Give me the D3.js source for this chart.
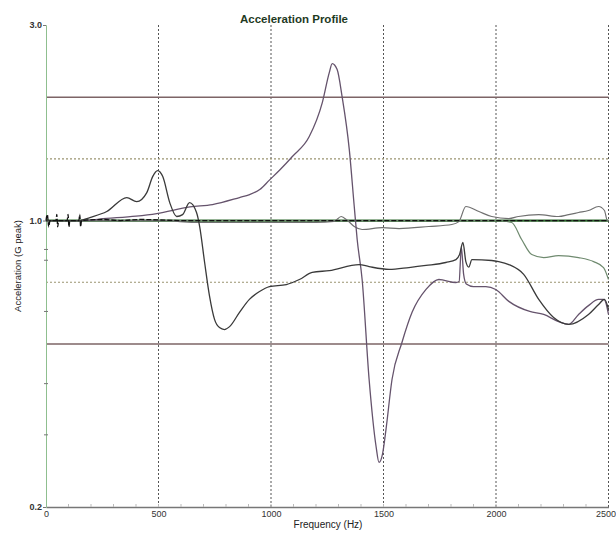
<!DOCTYPE html>
<html>
<head>
<meta charset="utf-8">
<script src="https://cdn.jsdelivr.net/npm/d3@7/dist/d3.min.js"></script>
<style>
  html, body { margin: 0; padding: 0; background: #fff; }
  svg { display: block; font-family: "Liberation Sans", Arial, sans-serif; }
</style>
</head>
<body>
<svg id="chart" width="616" height="534"></svg>
<script>
// Frequency axis (Hz) and acceleration axis (G peak, log)
const freqTicks = [0, 500, 1000, 1500, 2000, 2500];
const freqMinorTicks = d3.range(100, 2500, 100);
const accelLabels = [3.0, 1.0, 0.2];
const accelMinorTicks = [0.85, 0.8, 0.6, 0.4, 0.3];
const abortLimits = [2.0, 0.5];
const alarmLimits = [1.414, 0.707];
const referenceLevel = [[0, 1.0], [2500, 1.0]];

// Control channel: flat at 1.0 with start-up chatter
const controlTrace = [
  [0, 1.0], [6, 1.035], [12, 0.965], [18, 1.0], [44, 1.0], [48, 1.035], [52, 0.965], [56, 1.0],
  [94, 1.0], [98, 1.035], [102, 0.965], [106, 1.0], [146, 1.0], [150, 1.035], [154, 0.965],
  [158, 1.0], [250, 1.006], [330, 1.0], [420, 1.006], [600, 1.0], [2500, 1.0]
];

// Response channel with resonance at 1270 Hz and notch at 1480 Hz
const responseA = [
  [0, 1.0], [150, 1.0], [270, 1.012], [400, 1.025], [492, 1.04], [640, 1.08], [740, 1.094],
  [860, 1.138], [905, 1.157], [950, 1.19], [993, 1.255], [1040, 1.33], [1095, 1.433],
  [1170, 1.603], [1228, 1.94], [1259, 2.296], [1272, 2.415], [1294, 2.335], [1316, 2.006],
  [1348, 1.49], [1370, 1.082], [1383, 0.899], [1405, 0.718], [1436, 0.41], [1467, 0.281],
  [1480, 0.257], [1496, 0.27], [1511, 0.309], [1538, 0.41], [1582, 0.504], [1627, 0.597],
  [1689, 0.679], [1746, 0.718], [1822, 0.706], [1836, 0.71], [1846, 0.86], [1856, 0.74],
  [1868, 0.70], [1900, 0.69], [1955, 0.69], [1999, 0.679], [2057, 0.635], [2150, 0.60],
  [2212, 0.59], [2278, 0.567], [2323, 0.558], [2367, 0.59], [2411, 0.62], [2456, 0.642],
  [2480, 0.642], [2500, 0.59]
];

// Response channel with peak at 500 Hz and dip at 790 Hz
const responseB = [
  [0, 1.0], [150, 1.0], [195, 1.017], [270, 1.052], [359, 1.138], [403, 1.112], [448, 1.17],
  [474, 1.28], [496, 1.324], [519, 1.28], [550, 1.106], [581, 1.023], [607, 1.034],
  [638, 1.106], [669, 1.046], [683, 0.967], [705, 0.79], [727, 0.653], [749, 0.574],
  [771, 0.548], [793, 0.542], [816, 0.551], [860, 0.597], [904, 0.642], [949, 0.671],
  [993, 0.69], [1068, 0.698], [1126, 0.718], [1183, 0.747], [1259, 0.755], [1392, 0.781],
  [1436, 0.772], [1525, 0.76], [1613, 0.768], [1689, 0.777], [1777, 0.79], [1822, 0.803],
  [1838, 0.826], [1853, 0.884], [1866, 0.794], [1879, 0.77], [1893, 0.803], [1981, 0.799],
  [2012, 0.794], [2057, 0.781], [2123, 0.739], [2190, 0.642], [2256, 0.58], [2323, 0.558],
  [2411, 0.59], [2456, 0.624], [2482, 0.642], [2500, 0.607]
];

// Channel tracking just under the reference level
const responseC = [
  [0, 1.0], [550, 1.0], [594, 0.994], [700, 0.989], [1000, 0.989], [1200, 0.989],
  [1280, 0.995], [1312, 1.023], [1340, 1.0], [1370, 0.967], [1405, 0.951], [1494, 0.961],
  [1569, 0.956], [1702, 0.967], [1804, 0.978], [1835, 0.994], [1866, 1.082], [1924, 1.052],
  [1981, 1.023], [2057, 1.011], [2100, 1.023], [2190, 1.034], [2278, 1.023], [2323, 1.034],
  [2367, 1.046], [2411, 1.058], [2456, 1.082], [2482, 1.058], [2495, 1.0], [2500, 1.0]
];

// Channel that leaves the reference above 2000 Hz
const responseD = [
  [0, 1.0], [2012, 1.0], [2070, 0.989], [2114, 0.899], [2159, 0.826], [2212, 0.812],
  [2278, 0.821], [2367, 0.812], [2434, 0.794], [2478, 0.768], [2500, 0.718]
];

const svg = d3.select("#chart");
const plotLeft = 46, plotRight = 608.5, plotTop = 25, plotBottom = 507;

const x = d3.scaleLinear().domain([0, 2500]).range([plotLeft, plotRight]);
const y = d3.scaleLog().domain([0.2, 3.0]).range([plotBottom, plotTop]);

// Frequency grid
svg.append("g").selectAll("line")
  .data(freqTicks.filter(d => d > 0))
  .join("line")
  .attr("x1", d => x(d)).attr("x2", d => x(d))
  .attr("y1", plotTop).attr("y2", plotBottom)
  .attr("stroke", "#555").attr("stroke-width", 1)
  .attr("stroke-dasharray", "2,2");

// Alarm limits (dotted) and abort limits (solid)
svg.append("g").selectAll("line")
  .data(alarmLimits)
  .join("line")
  .attr("x1", plotLeft).attr("x2", plotRight)
  .attr("y1", d => y(d)).attr("y2", d => y(d))
  .attr("stroke", "#9a9470").attr("stroke-width", 1.2)
  .attr("stroke-dasharray", "2,2");

svg.append("g").selectAll("line")
  .data(abortLimits)
  .join("line")
  .attr("x1", plotLeft).attr("x2", plotRight)
  .attr("y1", d => y(d)).attr("y2", d => y(d))
  .attr("stroke", "#7d6466").attr("stroke-width", 1.5);

// Axes
const xAxis = svg.append("g").attr("transform", `translate(0,${plotBottom})`)
  .call(d3.axisBottom(x).tickValues(freqTicks).tickSize(0).tickPadding(4)
    .tickFormat(d3.format("d")));
xAxis.select(".domain").attr("stroke", "#777").attr("stroke-width", 1.5);
xAxis.selectAll("text").attr("font-size", 9).attr("fill", "#333")
  .attr("font-family", "Liberation Sans, Arial, sans-serif");
// keep the last frequency label inside the frame
xAxis.selectAll(".tick").filter(d => d === 2500).select("text")
  .attr("text-anchor", "end").attr("dx", 7);

svg.append("g").selectAll("line")
  .data(freqMinorTicks)
  .join("line")
  .attr("x1", d => x(d)).attr("x2", d => x(d))
  .attr("y1", plotBottom).attr("y2", plotBottom - 3)
  .attr("stroke", "#bbb");

const yAxis = svg.append("g").attr("transform", `translate(${plotLeft},0)`)
  .call(d3.axisLeft(y).tickValues(accelLabels).tickSize(3).tickPadding(1)
    .tickFormat(d3.format(".1f")));
yAxis.select(".domain").attr("stroke", "#8fbf8f").attr("stroke-width", 1);
yAxis.selectAll(".tick line").attr("stroke", "#777");
yAxis.selectAll("text").attr("font-size", 9).attr("fill", "#333")
  .attr("font-weight", "bold")
  .attr("font-family", "Liberation Sans, Arial, sans-serif");

svg.append("g").selectAll("line")
  .data(accelMinorTicks)
  .join("line")
  .attr("x1", plotLeft - 2).attr("x2", plotLeft + 2)
  .attr("y1", d => y(d)).attr("y2", d => y(d))
  .attr("stroke", "#777");

// Traces
const line = d3.line()
  .x(d => x(d[0]))
  .y(d => y(d[1]))
  .curve(d3.curveMonotoneX);

const traces = [
  { data: referenceLevel, color: "#2f6a2f", width: 2.2, dash: null },
  { data: responseD, color: "#6f8a6f", width: 1.2, dash: null },
  { data: responseC, color: "#707070", width: 1.2, dash: null },
  { data: responseA, color: "#65536c", width: 1.3, dash: null },
  { data: responseB, color: "#3a3a3a", width: 1.3, dash: null },
  { data: controlTrace, color: "#111", width: 1.3, dash: "5,2" }
];

svg.append("g").selectAll("path")
  .data(traces)
  .join("path")
  .attr("d", d => line(d.data))
  .attr("fill", "none")
  .attr("stroke", d => d.color)
  .attr("stroke-width", d => d.width)
  .attr("stroke-dasharray", d => d.dash)
  .attr("stroke-linejoin", "round");

// Titles
svg.append("text")
  .attr("x", 294).attr("y", 22.5)
  .attr("text-anchor", "middle")
  .attr("font-size", 11.5).attr("font-weight", "bold")
  .attr("fill", "#1f3a1f")
  .text("Acceleration Profile");

svg.append("text")
  .attr("x", 328).attr("y", 528)
  .attr("text-anchor", "middle")
  .attr("font-size", 10).attr("fill", "#222")
  .text("Frequency (Hz)");

svg.append("text")
  .attr("transform", "translate(21,266) rotate(-90)")
  .attr("text-anchor", "middle")
  .attr("font-size", 9.5).attr("fill", "#222")
  .text("Acceleration (G peak)");
</script>
</body>
</html>
